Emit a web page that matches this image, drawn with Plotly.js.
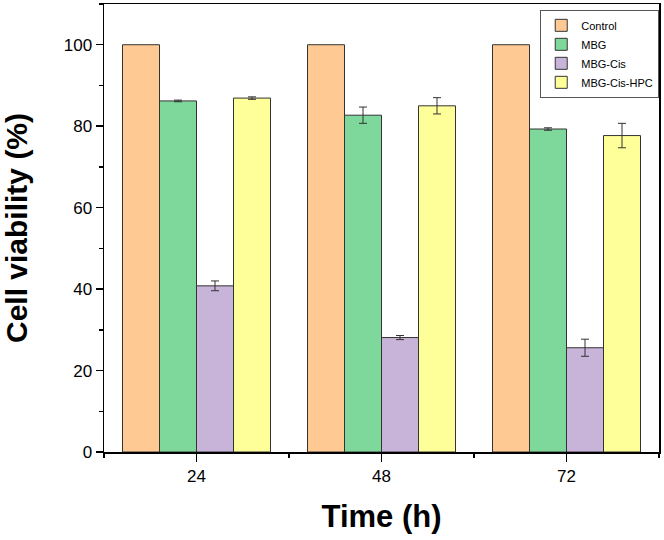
<!DOCTYPE html>
<html>
<head>
<meta charset="utf-8">
<script src="https://cdn.plot.ly/plotly-3.0.1.min.js"></script>
<style>
  html, body { margin: 0; padding: 0; background: #fff; }
  #chart { width: 664px; height: 540px; }
</style>
</head>
<body>
<div id="chart"></div>
<script>
// time points (h)
const timeLabels = ["24", "48", "72"];

// cell viability (%) and error
const controlVals = [100, 100, 100];
const mbgVals = [86.2, 82.7, 79.3];
const mbgErr = [0.2, 2.0, 0.3];
const mbgCisVals = [40.8, 28.1, 25.6];
const mbgCisErr = [1.2, 0.5, 2.1];
const hpcVals = [86.9, 85.0, 77.7];
const hpcErr = [0.3, 2.0, 3.0];

const seriesNames = ["Control", "MBG", "MBG-Cis", "MBG-Cis-HPC"];
const seriesColors = ["#FFC994", "#7FD89B", "#C9B4D9", "#FFFF99"];

const xPos = timeLabels.map((_, i) => i + 1);

function barTrace(name, vals, err, color) {
  const t = {
    type: "bar",
    name: name,
    x: xPos,
    y: vals,
    marker: { color: color, line: { color: "#333333", width: 1 } },
  };
  if (err) {
    t.error_y = {
      type: "data",
      array: err,
      visible: true,
      color: "#333333",
      thickness: 1,
      width: 4,
    };
  }
  return t;
}

const traces = [
  barTrace(seriesNames[0], controlVals, null, seriesColors[0]),
  barTrace(seriesNames[1], mbgVals, mbgErr, seriesColors[1]),
  barTrace(seriesNames[2], mbgCisVals, mbgCisErr, seriesColors[2]),
  barTrace(seriesNames[3], hpcVals, hpcErr, seriesColors[3]),
];

const layout = {
  width: 664,
  height: 540,
  margin: { l: 104, r: 5, t: 4, b: 88 },
  paper_bgcolor: "#ffffff",
  plot_bgcolor: "#ffffff",
  barmode: "group",
  bargap: 0.2,
  bargroupgap: 0,
  font: { family: "Liberation Sans, Arial, sans-serif", color: "#000" },
  showlegend: true,
  legend: {
    x: 0.786,
    y: 0.987,
    xanchor: "left",
    yanchor: "top",
    bgcolor: "#ffffff",
    bordercolor: "#555555",
    borderwidth: 1,
    font: { size: 11, family: "Liberation Sans, Arial, sans-serif" },
    tracegroupgap: 0,
  },
  xaxis: {
    range: [0.5, 3.5],
    tickvals: xPos,
    ticktext: timeLabels,
    ticks: "outside",
    ticklen: 8,
    tickwidth: 1.5,
    tickcolor: "#000",
    tickfont: { size: 17 },
    minor: { tick0: 0.5, dtick: 1, ticks: "outside", ticklen: 4, tickwidth: 1.5, tickcolor: "#000" },
    showgrid: false,
    zeroline: false,
    showline: true,
    linecolor: "#000",
    linewidth: 1.5,
    mirror: true,
    title: { text: "<b>Time (h)</b>", font: { size: 31 }, standoff: 20 },
  },
  yaxis: {
    range: [0, 110],
    tickvals: [0, 20, 40, 60, 80, 100],
    ticks: "outside",
    ticklen: 7,
    tickwidth: 1.5,
    tickcolor: "#000",
    tickfont: { size: 17 },
    minor: { tick0: 10, dtick: 20, ticks: "outside", ticklen: 4, tickwidth: 1.5, tickcolor: "#000" },
    showgrid: false,
    zeroline: false,
    showline: true,
    linecolor: "#000",
    linewidth: 1.5,
    mirror: true,
    title: { text: "<b>Cell viability (%)</b>", font: { size: 30 }, standoff: 34 },
  },
};

Plotly.newPlot("chart", traces, layout, { displayModeBar: false, staticPlot: true });
</script>
</body>
</html>
